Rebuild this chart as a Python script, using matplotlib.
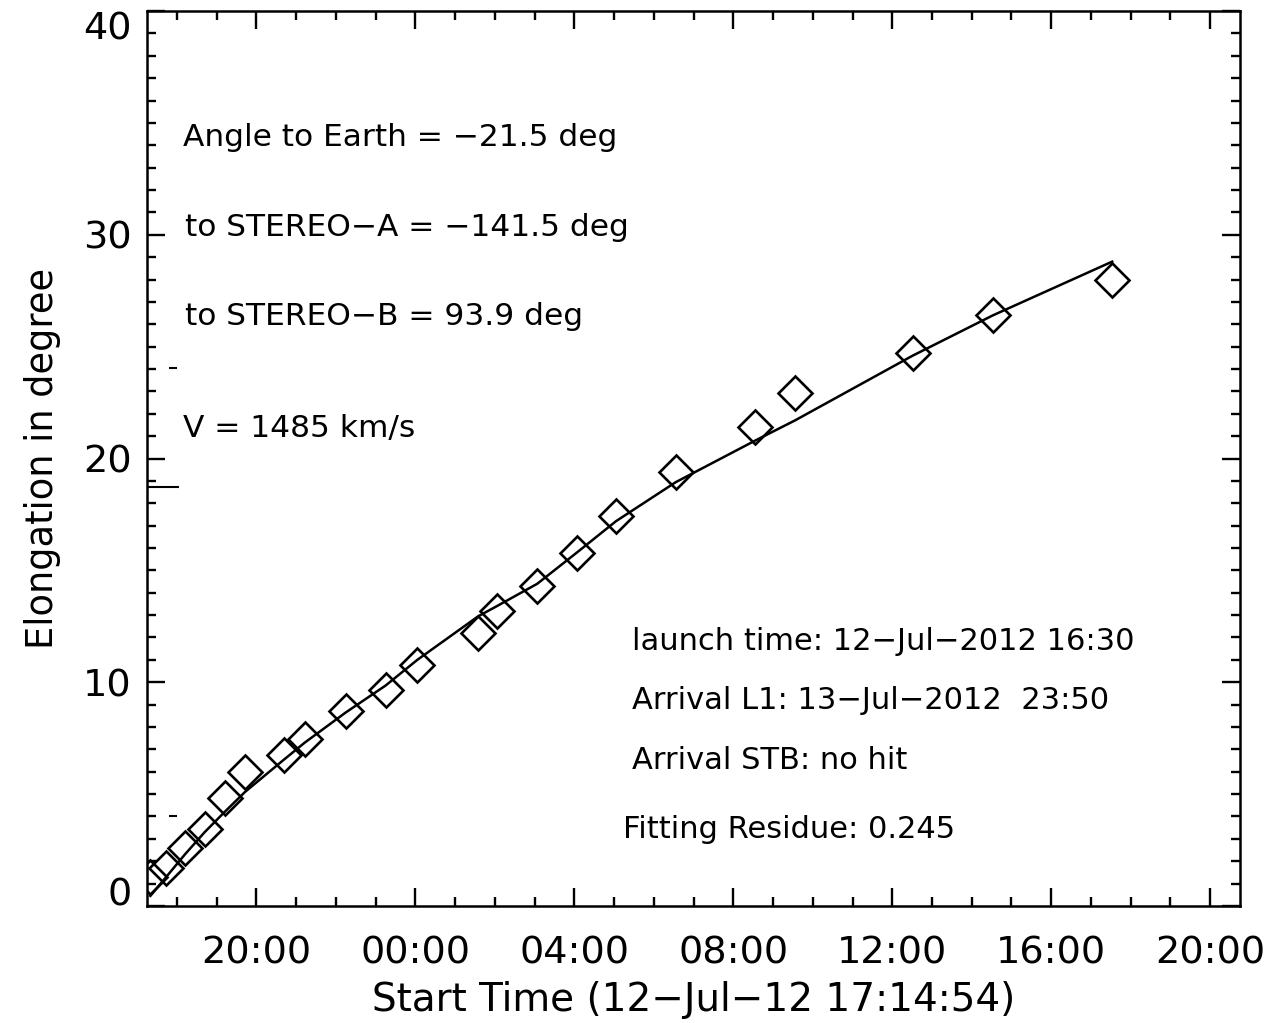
import numpy as np
import pandas as pd
import matplotlib
matplotlib.use("Agg")
import matplotlib.pyplot as plt
import matplotlib.dates as mdates

# observation times (HI track) and measured elongation
obs_times = ["2012-07-12 17:20", "2012-07-12 17:44", "2012-07-12 18:12",
             "2012-07-12 18:42", "2012-07-12 19:12", "2012-07-12 19:43",
             "2012-07-12 20:42", "2012-07-12 21:13", "2012-07-12 22:15",
             "2012-07-12 23:15", "2012-07-13 00:03", "2012-07-13 01:35",
             "2012-07-13 02:03", "2012-07-13 03:04", "2012-07-13 04:04",
             "2012-07-13 05:03", "2012-07-13 06:33", "2012-07-13 08:33",
             "2012-07-13 09:33", "2012-07-13 12:31", "2012-07-13 14:32",
             "2012-07-13 17:32"]
elon_obs = [1.3, 1.7, 2.6, 3.45, 4.84, 6.0, 6.76, 7.48, 8.73, 9.67, 10.75,
            12.18, 13.17, 14.29, 15.76, 17.42, 19.39, 21.4, 22.93, 24.72,
            26.42, 27.99]
# fitted elongation at the same times
elon_fit = [0.45, 1.3, 2.3, 3.3, 4.2, 5.1, 6.55, 7.3, 8.65, 9.85, 11.0,
            12.95, 13.4, 14.4, 15.8, 17.2, 18.94, 20.8, 21.7, 24.6, 26.4,
            28.8]

# short reference marks on the left edge
ref_levels = [24.05, 18.72, 4.0]

start_time = "2012-07-12 17:14:54"
end_time = "2012-07-13 20:45:00"

info_left = ["Angle to Earth = \u221221.5 deg",
             "to STEREO\u2212A = \u2212141.5 deg",
             "to STEREO\u2212B = 93.9 deg",
             "V = 1485 km/s"]
info_right = ["launch time: 12\u2212Jul\u22122012 16:30",
              "Arrival L1: 13\u2212Jul\u22122012  23:50",
              "Arrival STB: no hit",
              "Fitting Residue: 0.245"]

t = pd.to_datetime(obs_times)

fig = plt.figure(figsize=(12.76, 10.23), dpi=100)
ax = fig.add_axes([0.1152, 0.1144, 0.8566, 0.8748])

ax.plot(t, elon_fit, color="black", lw=1.8, zorder=2)
ax.plot(t, elon_obs, ls="none", marker="D", ms=17.5, mfc="none",
        mec="black", mew=1.9, zorder=3)

ax.set_xlim(pd.Timestamp(start_time), pd.Timestamp(end_time))
ax.set_ylim(0, 40)

ax.xaxis.set_major_locator(mdates.HourLocator(byhour=[0, 4, 8, 12, 16, 20]))
ax.xaxis.set_minor_locator(mdates.HourLocator())
ax.xaxis.set_major_formatter(mdates.DateFormatter("%H:%M"))
ax.set_yticks(np.arange(0, 41, 10))
ax.set_yticks(np.arange(0, 41, 1), minor=True)

ax.tick_params(which="both", direction="in", top=True, right=True,
               width=1.7, labelsize=27.5, color="black")
ax.tick_params(which="major", length=13)
ax.tick_params(which="minor", length=6.5)
ax.tick_params(axis="x", which="major", pad=21)
ax.tick_params(axis="y", which="major", pad=11)
for sp in ax.spines.values():
    sp.set_linewidth(1.8)

ylabels = ax.get_yticklabels()
ylabels[0].set_va("baseline")
ylabels[-1].set_va("top")

ax.set_xlabel("Start Time (12\u2212Jul\u221212 17:14:54)", fontsize=28, labelpad=7)
ax.set_ylabel("Elongation in degree", fontsize=26.5, labelpad=16)

# stray marks along the left axis
ytr = ax.get_yaxis_transform()
ax.hlines(ref_levels[0], 0.020, 0.027, transform=ytr, color="black", lw=1.5)
ax.hlines(ref_levels[1], 0.0, 0.029, transform=ytr, color="black", lw=1.5)
ax.hlines(ref_levels[2], 0.020, 0.027, transform=ytr, color="black", lw=1.5)

for s, xx, yy in zip(info_left, [0.033, 0.035, 0.035, 0.033],
                     [0.859, 0.758, 0.659, 0.534]):
    ax.text(xx, yy, s, transform=ax.transAxes, fontsize=22.5, va="center", ha="left")
for s, xx, yy in zip(info_right, [0.444, 0.444, 0.444, 0.4355],
                     [0.296, 0.230, 0.162, 0.086]):
    ax.text(xx, yy, s, transform=ax.transAxes, fontsize=22, va="center", ha="left")

fig.savefig("out.png", dpi=100)
